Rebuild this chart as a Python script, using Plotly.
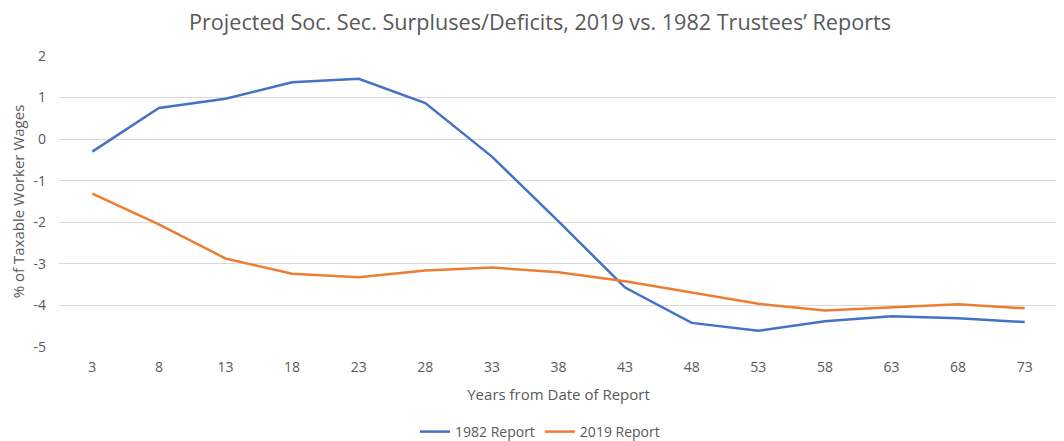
import plotly.graph_objects as go

years = ["3", "8", "13", "18", "23", "28", "33", "38", "43", "48", "53", "58", "63", "68", "73"]
report_1982 = [-0.30, 0.75, 0.97, 1.37, 1.45, 0.87, -0.42, -1.98, -3.57, -4.42, -4.61, -4.38, -4.26, -4.31, -4.40]
report_2019 = [-1.31, -2.05, -2.87, -3.24, -3.32, -3.16, -3.09, -3.20, -3.42, -3.69, -3.96, -4.12, -4.05, -3.97, -4.07]
y_ticks = [2, 1, 0, -1, -2, -3, -4, -5]
y_tick_labels = ["2", "1", "0", "-1", "-2", "-3", "-4", "-5"]

FONT = "Open Sans, Noto Sans, sans-serif"
GRAY = "#595959"
H = 441
OFF = 8  # page body margin offset

fig = go.Figure()
fig.add_trace(go.Scatter(x=years, y=report_1982, mode="lines", name="1982 Report",
                         line=dict(color="#4472C4", width=2.5)))
fig.add_trace(go.Scatter(x=years, y=report_2019, mode="lines", name="2019 Report",
                         line=dict(color="#ED7D31", width=2.5)))

fig.update_layout(
    width=1064, height=H,
    margin=dict(l=59 - OFF, r=6 + OFF, t=56 - OFF, b=94 + OFF, autoexpand=False),
    paper_bgcolor="white", plot_bgcolor="white",
    font=dict(family=FONT, color=GRAY, size=13),
    title=dict(text="Projected Soc. Sec. Surpluses/Deficits, 2019 vs. 1982 Trustees\u2019 Reports",
               x=0.5, xanchor="center", y=1 - (22 - OFF) / H, yanchor="middle", yref="container",
               font=dict(size=21.6, color=GRAY, family=FONT)),
    xaxis=dict(type="category", range=[-0.5, 14.5], showgrid=False, zeroline=False,
               showline=False, ticks="", tickfont=dict(size=14, color=GRAY), automargin=False,
               ticklabelstandoff=10,
               title=dict(text="Years from Date of Report", font=dict(size=15, color=GRAY), standoff=14)),
    yaxis=dict(range=[-5, 2], tickvals=y_ticks, ticktext=y_tick_labels, showgrid=True,
               gridcolor="#d9d9d9", gridwidth=1, automargin=False, ticklabelstandoff=12,
               zeroline=False, showline=False, ticks="", tickfont=dict(size=14, color=GRAY),
               title=dict(text="% of Taxable Worker Wages", font=dict(size=15, color=GRAY), standoff=12)),
    legend=dict(orientation="h", x=0.5, xanchor="center", xref="container",
                y=1 - (432 - OFF) / H, yanchor="middle", yref="container",
                font=dict(size=14, color=GRAY)),
    showlegend=True,
)

fig.write_html("out.html")
